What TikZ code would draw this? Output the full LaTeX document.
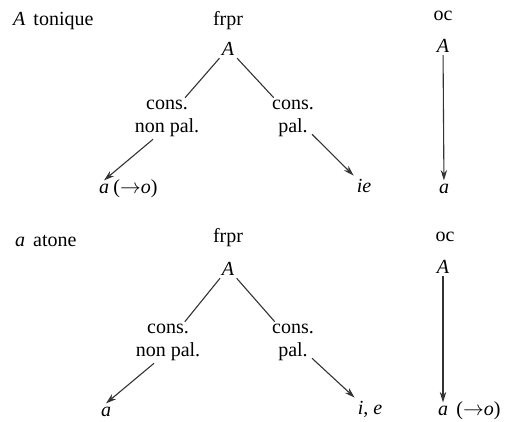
\documentclass[tikz,border=0pt]{standalone}
\usepackage{fontspec}
\setmainfont{Liberation Serif}
\usetikzlibrary{arrows.meta}
\begin{document}
\begin{tikzpicture}[x=1pt,y=-1pt,
  lbl/.style={font=\fontsize{20}{23.5}\selectfont, inner sep=3pt, anchor=base},
  branch/.style={align=center, font=\fontsize{20}{23.5}\selectfont, inner sep=2pt},
  link/.style={line width=1.1pt, draw=black!80},
  arr/.style={link, -{Stealth[length=10.5pt,width=6.5pt]}}]
\useasboundingbox (0,0) rectangle (509,421);

% ---- tonic A ----
\node[lbl, anchor=base west, inner sep=0pt] (t1) at (13,25) {\textit{A}\hspace{0.4em}tonique};
\node[lbl] (fr1) at (228,25) {frpr};
\node[lbl] (A1) at (228,55) {\textit{A}};
\node[branch] (cl1) at (167,118.5) {cons.\\non pal.};
\node[branch] (cr1) at (293,118.5) {cons.\\pal.};
\node[lbl] (aL1) at (104,193) {\textit{a}};
\node[lbl, anchor=base west, inner sep=0pt] (aL1o) at ([xshift=1pt]aL1.base east) {(\ensuremath{\rightarrow}\textit{o})};
\node[lbl] (ie1) at (364,192) {\textit{ie}};
\node[lbl] (oc1) at (443,20) {oc};
\node[lbl] (Ar1) at (443,52) {\textit{A}};
\node[lbl] (ar1) at (444,193) {\textit{a}};

\draw[link] (A1) -- (cl1);
\draw[arr] ([xshift=-14pt]cl1.south) -- (aL1.north);
\draw[link] (A1) -- (cr1);
\draw[arr] ([xshift=-4pt,yshift=5pt]cr1.south east) -- (ie1.north west);
\draw[arr] (Ar1) -- (ar1);

% ---- unstressed a ----
\node[lbl, anchor=base west, inner sep=0pt] (t2) at (15,246) {\textit{a}\hspace{0.4em}atone};
\node[lbl] (fr2) at (228,242) {frpr};
\node[lbl] (A2) at (228,275) {\textit{A}};
\node[branch] (cl2) at (168,342.5) {cons.\\non pal.};
\node[branch] (cr2) at (293,342.5) {cons.\\pal.};
\node[lbl] (aL2) at (106,416) {\textit{a}};
\node[lbl] (ie2) at (370,414) {\textit{i}, \textit{e}};
\node[lbl] (oc2) at (445,241) {oc};
\node[lbl] (Ar2) at (443,273) {\textit{A}};
\node[lbl] (ar2) at (443,415) {\textit{a}};
\node[lbl, anchor=base west, inner sep=0pt] (ar2o) at ([xshift=5pt]ar2.base east) {(\ensuremath{\rightarrow}\textit{o})};

\draw[link] (A2) -- (cl2);
\draw[arr] ([xshift=-14pt]cl2.south) -- (aL2.north);
\draw[link] (A2) -- (cr2);
\draw[arr] ([xshift=-4pt,yshift=5pt]cr2.south east) -- (ie2.north west);
\draw[arr] (Ar2) -- (ar2);
\end{tikzpicture}
\end{document}
